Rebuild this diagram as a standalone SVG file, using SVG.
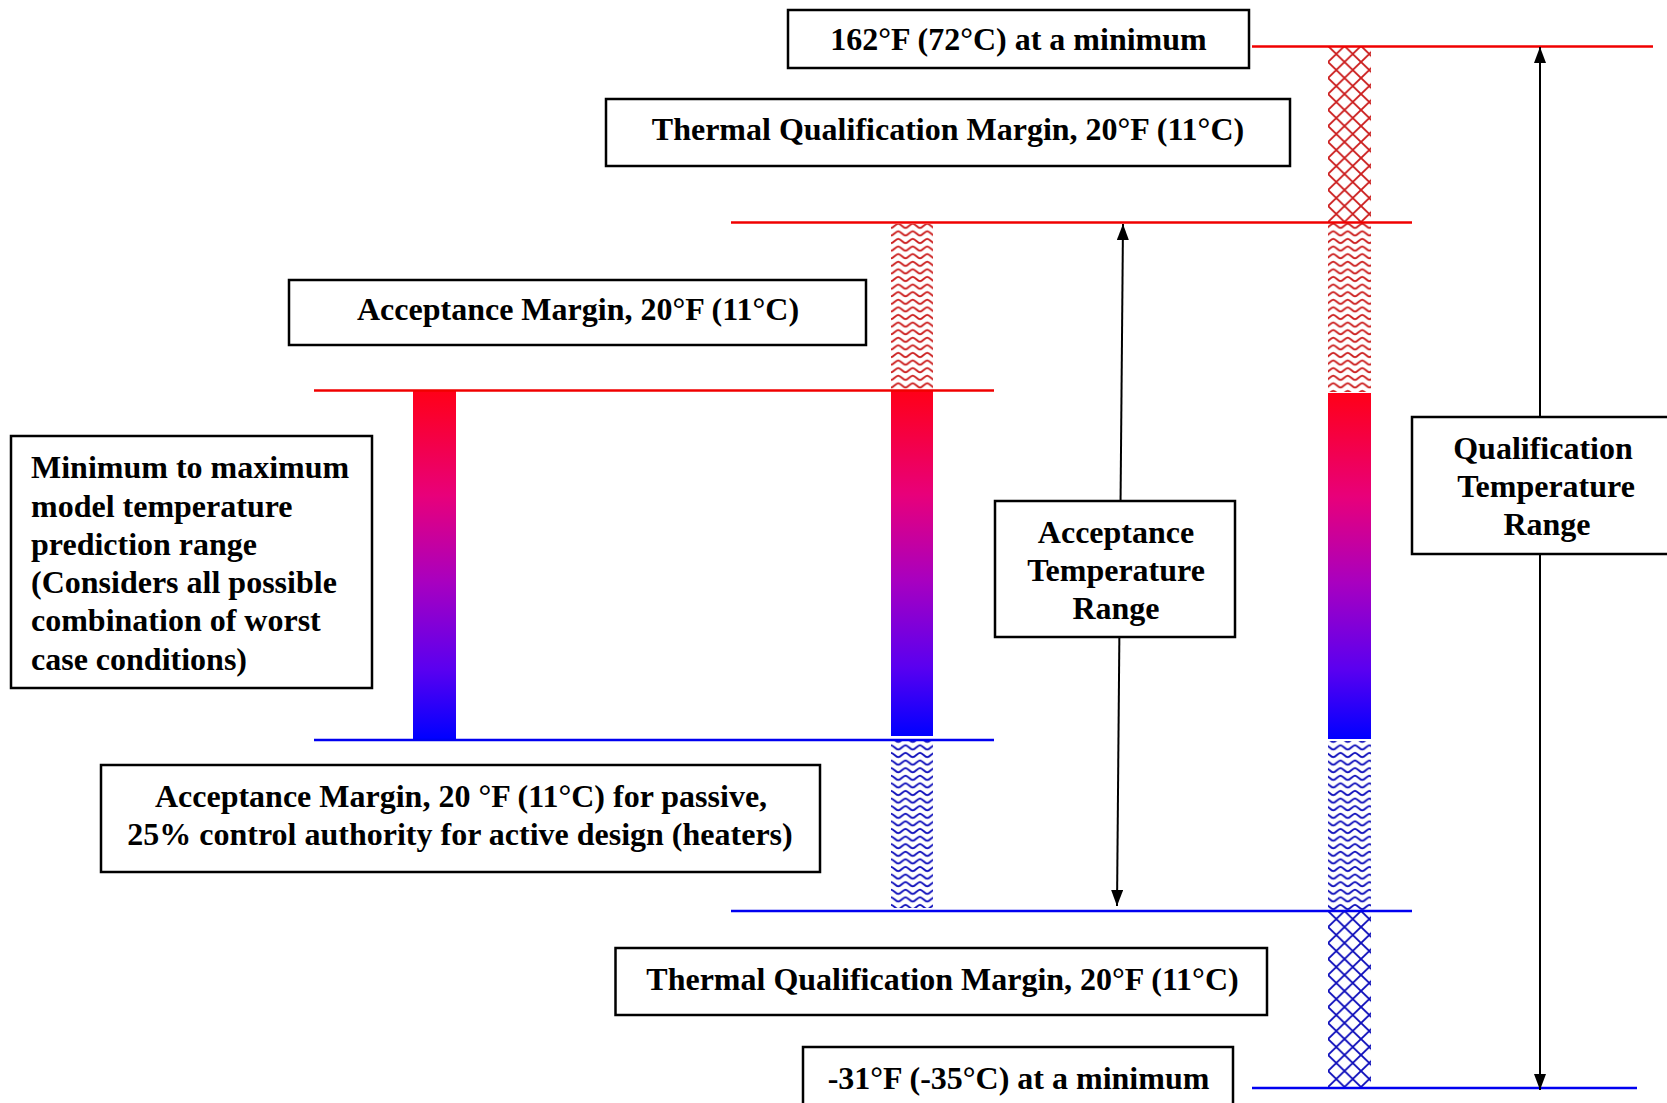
<svg xmlns="http://www.w3.org/2000/svg" width="1667" height="1103" viewBox="0 0 1667 1103">
<style>
.box{fill:#fff;stroke:#000;stroke-width:2.5}
.t{font-family:"Liberation Serif","Times New Roman",serif;font-weight:bold;font-size:32px;fill:#000}
.c{text-anchor:middle}
.red{stroke:#f00000;stroke-width:2.5}
.blue{stroke:#0000f0;stroke-width:2.5}
.arr{stroke:#000;stroke-width:2;fill:none}
</style>
<defs>
<linearGradient id="grad" x1="0" y1="0" x2="0" y2="1">
<stop offset="0" stop-color="#ff0018"/>
<stop offset="0.3" stop-color="#e8007a"/>
<stop offset="0.55" stop-color="#a800c0"/>
<stop offset="0.8" stop-color="#5a00f0"/>
<stop offset="1" stop-color="#0000ff"/>
</linearGradient>
<pattern id="waveR" patternUnits="userSpaceOnUse" x="891" y="222" width="14.5" height="7.6">
<rect width="14.5" height="7.6" fill="#fff"/>
<path d="M0,6 C2.4,6 4.8,1.6 7.25,1.6 C9.7,1.6 12.1,6 14.5,6" fill="none" stroke="#cc2020" stroke-width="1.9"/>
</pattern>
<pattern id="waveB" patternUnits="userSpaceOnUse" x="891" y="736" width="14.5" height="7.6">
<rect width="14.5" height="7.6" fill="#fff"/>
<path d="M0,1.6 C2.4,1.6 4.8,6 7.25,6 C9.7,6 12.1,1.6 14.5,1.6" fill="none" stroke="#1010bb" stroke-width="1.9"/>
</pattern>
<pattern id="crossR" patternUnits="userSpaceOnUse" x="1328" y="46" width="16.5" height="16">
<rect width="16.5" height="16" fill="#fff"/>
<path d="M0,0 L16.5,16 M16.5,0 L0,16" stroke="#cc2020" stroke-width="1.9"/>
</pattern>
<pattern id="crossB" patternUnits="userSpaceOnUse" x="1328" y="911" width="16.5" height="16">
<rect width="16.5" height="16" fill="#fff"/>
<path d="M0,0 L16.5,16 M16.5,0 L0,16" stroke="#1010bb" stroke-width="1.9"/>
</pattern>
<marker id="ah" viewBox="0 0 16 12" refX="16" refY="6" markerWidth="16" markerHeight="12" markerUnits="userSpaceOnUse" orient="auto-start-reverse">
<path d="M0,0 L16,6 L0,12 z" fill="#000"/>
</marker>
</defs>

<g id="bars">
<rect x="413" y="391" width="43" height="348" fill="url(#grad)"/>
<rect x="891" y="224" width="42" height="166" fill="url(#waveR)"/>
<rect x="891" y="391" width="42" height="345" fill="url(#grad)"/>
<rect x="891" y="741" width="42" height="167" fill="url(#waveB)"/>
<rect x="1328" y="47" width="43" height="175" fill="url(#crossR)"/>
<rect x="1328" y="223" width="43" height="169" fill="url(#waveR)"/>
<rect x="1328" y="393" width="43" height="346" fill="url(#grad)"/>
<rect x="1328" y="741" width="43" height="170" fill="url(#waveB)"/>
<rect x="1328" y="912" width="43" height="175" fill="url(#crossB)"/>
</g>

<g id="levels">
<line class="red" x1="1252" y1="46.5" x2="1653" y2="46.5"/>
<line class="red" x1="731" y1="222.5" x2="1412" y2="222.5"/>
<line class="red" x1="314" y1="390.5" x2="994" y2="390.5"/>
<line class="blue" x1="314" y1="740" x2="994" y2="740"/>
<line class="blue" x1="731" y1="911" x2="1412" y2="911"/>
<line class="blue" x1="1252" y1="1088" x2="1637" y2="1088"/>
</g>

<g id="connectors">
<line class="arr" x1="1117" y1="906" x2="1123" y2="224" marker-start="url(#ah)" marker-end="url(#ah)"/>
<line class="arr" x1="1540" y1="1090" x2="1540" y2="47" marker-start="url(#ah)" marker-end="url(#ah)"/>
</g>

<g id="n-top-162">
<rect class="box" x="788" y="10" width="461" height="58"/>
<text class="t c" x="1018.5" y="50">162°F (72°C) at a minimum</text>
</g>
<g id="n-tqm-top">
<rect class="box" x="606" y="99" width="684" height="67"/>
<text class="t c" x="948" y="140">Thermal Qualification Margin, 20°F (11°C)</text>
</g>
<g id="n-am-top">
<rect class="box" x="289" y="280" width="577" height="65"/>
<text class="t c" x="578" y="320">Acceptance Margin, 20°F (11°C)</text>
</g>
<g id="n-model">
<rect class="box" x="11" y="436" width="361" height="252"/>
<text class="t" x="31" y="478">Minimum to maximum</text>
<text class="t" x="31" y="516.5">model temperature</text>
<text class="t" x="31" y="555">prediction range</text>
<text class="t" x="31" y="593">(Considers all possible</text>
<text class="t" x="31" y="631">combination of worst</text>
<text class="t" x="31" y="669.5">case conditions)</text>
</g>
<g id="n-am-bottom">
<rect class="box" x="101" y="765" width="719" height="107"/>
<text class="t c" x="461" y="807">Acceptance Margin, 20 °F (11°C) for passive,</text>
<text class="t c" x="460" y="845">25% control authority for active design (heaters)</text>
</g>
<g id="n-tqm-bottom">
<rect class="box" x="615.5" y="948" width="651.5" height="67"/>
<text class="t c" x="942.5" y="990">Thermal Qualification Margin, 20°F (11°C)</text>
</g>
<g id="n-bottom-31">
<rect class="box" x="803" y="1047" width="430" height="70"/>
<text class="t c" x="1018.5" y="1089">-31°F (-35°C) at a minimum</text>
</g>
<g id="n-atr">
<rect class="box" x="995" y="501" width="240" height="136"/>
<text class="t c" x="1116" y="543">Acceptance</text>
<text class="t c" x="1116" y="581">Temperature</text>
<text class="t c" x="1116" y="619">Range</text>
</g>
<g id="n-qtr">
<rect class="box" x="1412" y="417" width="280" height="137"/>
<text class="t c" x="1543" y="459">Qualification</text>
<text class="t c" x="1546" y="497">Temperature</text>
<text class="t c" x="1547" y="535">Range</text>
</g>
</svg>
